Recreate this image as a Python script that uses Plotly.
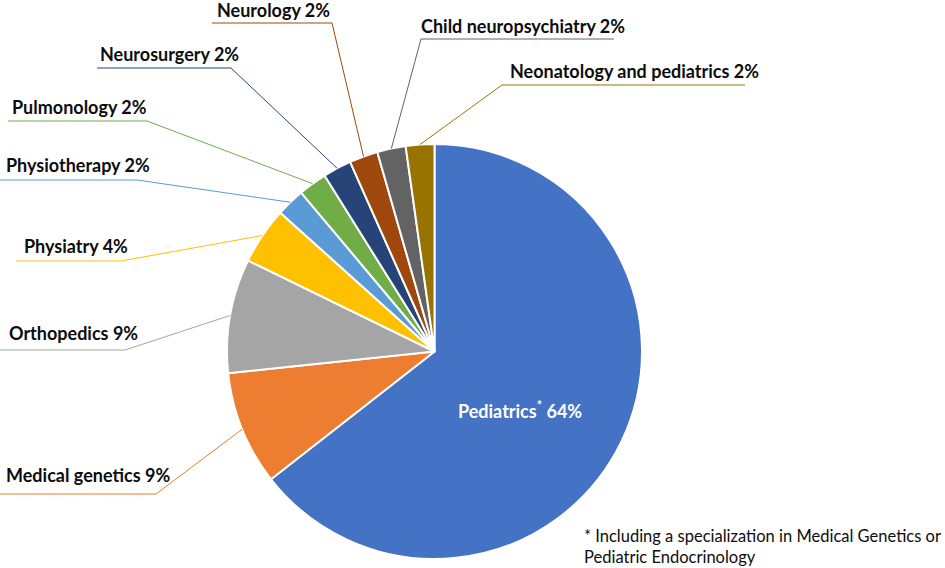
import math
import plotly.graph_objects as go

# ---- data ----
specialties = ["Pediatrics", "Medical genetics", "Orthopedics", "Physiatry", "Physiotherapy",
               "Pulmonology", "Neurosurgery", "Neurology", "Child neuropsychiatry",
               "Neonatology and pediatrics"]
counts = [29, 4, 4, 2, 1, 1, 1, 1, 1, 1]
colors = ["#4472C4", "#ED7D31", "#A5A5A5", "#FFC000", "#5B9BD5",
          "#70AD47", "#264478", "#9E480E", "#636363", "#997300"]
footnote = "* Including a specialization in Medical Genetics or<br>Pediatric Endocrinology"

W, H = 945, 568
CX, CY, R = 434.5, 351.5, 207.5  # pie geometry in pixels

def px(x):
    return x / W

def py(y):
    return 1 - y / H

total = sum(counts)
pcts = [round(100 * c / total) for c in counts]

fig = go.Figure()
fig.add_trace(go.Pie(
    labels=specialties, values=counts, sort=False, direction="clockwise", rotation=0,
    marker=dict(colors=colors, line=dict(color="white", width=2)),
    textinfo="none", hoverinfo="label+percent", showlegend=False,
    domain=dict(x=[px(CX - R), px(CX + R)], y=[py(CY + R), py(CY - R)]),
))

# label layout: (text left x, text center y, line y, line x0, line x1, side)
label_layout = {
    "Medical genetics": (4, 475, 494, 0, 156, "L"),
    "Orthopedics": (7, 333, 350, 0, 125, "L"),
    "Physiatry": (22, 246, 261, 16, 121, "L"),
    "Physiotherapy": (4, 165, 180, 0, 137, "L"),
    "Pulmonology": (10, 107, 121, 8, 147, "L"),
    "Neurosurgery": (98, 54, 68, 97, 231, "L"),
    "Neurology": (215, 10, 23, 212, 332, "L"),
    "Child neuropsychiatry": (419, 26, 39, 421, 614, "R"),
    "Neonatology and pediatrics": (508, 71, 85, 502, 745, "R"),
}

annotations = []
shapes = []
cum = 0
for name, c, pct, col in zip(specialties, counts, pcts, colors):
    mid = (cum + c / 2) / total * 2 * math.pi
    cum += c
    ex = CX + R * math.sin(mid)
    ey = CY - R * math.cos(mid)
    if name in label_layout:
        tx, ty, ly, x0, x1, side = label_layout[name]
        annotations.append(dict(
            x=px(tx), y=py(ty), xref="paper", yref="paper", xanchor="left", yanchor="middle",
            text=f"{name} {pct}%", showarrow=False,
            font=dict(family="Lato", size=18, color="#0d0d0d", weight="bold")))
        if side == "L":
            path = f"M {px(x0)} {py(ly)} L {px(x1)} {py(ly)} L {px(ex)} {py(ey)}"
        else:
            path = f"M {px(x1)} {py(ly)} L {px(x0)} {py(ly)} L {px(ex)} {py(ey)}"
        shapes.append(dict(type="path", xref="paper", yref="paper", path=path,
                           line=dict(color=col, width=1)))

# inside label for the main slice
annotations.append(dict(
    x=px(520), y=py(410), xref="paper", yref="paper", xanchor="center", yanchor="middle",
    text=f"{specialties[0]}<sup>*</sup> {pcts[0]}%", showarrow=False,
    font=dict(family="Lato", size=18, color="white", weight="bold")))

annotations.append(dict(
    x=px(582), y=py(546), xref="paper", yref="paper", xanchor="left", yanchor="middle",
    text=footnote, showarrow=False, align="left",
    font=dict(family="Lato", size=16.5, color="#0d0d0d")))

fig.update_layout(
    width=W, height=H, margin=dict(l=0, r=0, t=0, b=0),
    paper_bgcolor="white", plot_bgcolor="white",
    annotations=annotations, shapes=shapes,
)
fig.write_html("out.html", config={"displayModeBar": False},
               post_script="document.body.style.margin='0';document.body.style.overflow='hidden';")
